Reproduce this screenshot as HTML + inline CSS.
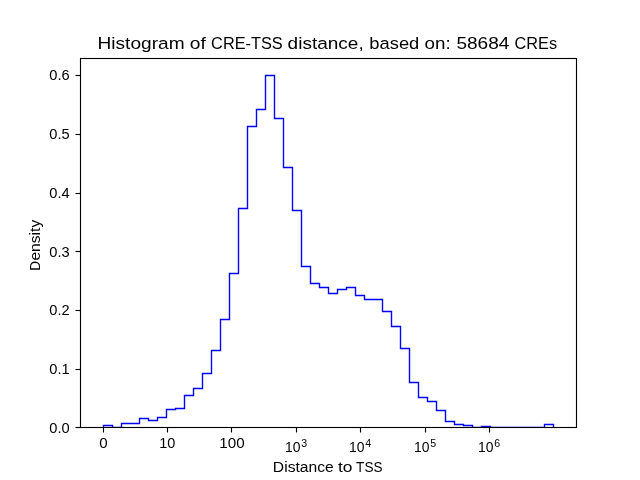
<!DOCTYPE html>
<html><head><meta charset="utf-8"><style>
html,body{margin:0;padding:0;background:#fff;width:640px;height:480px;overflow:hidden}
svg{display:block}
text{font-family:"Liberation Sans", sans-serif;font-size:13.89px;fill:#000}
</style></head><body>
<svg width="640" height="480" viewBox="0 0 640 480">
<rect width="640" height="480" fill="#fff"/>
<defs><clipPath id="c"><rect x="80" y="58" width="496" height="369"/></clipPath><filter id="g"><feColorMatrix type="saturate" values="0"/></filter></defs>
<path clip-path="url(#c)" d="M103.5,427.5 L103.5,425.5 L112.5,425.5 L112.5,427.5 L121.5,427.5 L121.5,423.5 L130.5,423.5 L130.5,423.5 L139.5,423.5 L139.5,418.5 L148.5,418.5 L148.5,420.5 L157.5,420.5 L157.5,417.5 L166.5,417.5 L166.5,409.5 L175.5,409.5 L175.5,408.5 L184.5,408.5 L184.5,395.5 L193.5,395.5 L193.5,388.5 L202.5,388.5 L202.5,373.5 L211.5,373.5 L211.5,350.5 L220.5,350.5 L220.5,319.5 L229.5,319.5 L229.5,273.5 L238.5,273.5 L238.5,208.5 L247.5,208.5 L247.5,126.5 L256.5,126.5 L256.5,109.5 L265.5,109.5 L265.5,75.5 L274.5,75.5 L274.5,118.5 L283.5,118.5 L283.5,167.5 L292.5,167.5 L292.5,210.5 L301.5,210.5 L301.5,266.5 L310.5,266.5 L310.5,283.5 L319.5,283.5 L319.5,287.5 L328.5,287.5 L328.5,293.5 L337.5,293.5 L337.5,289.5 L346.5,289.5 L346.5,287.5 L355.5,287.5 L355.5,295.5 L364.5,295.5 L364.5,299.5 L373.5,299.5 L373.5,299.5 L382.5,299.5 L382.5,311.5 L391.5,311.5 L391.5,326.5 L400.5,326.5 L400.5,348.5 L409.5,348.5 L409.5,382.5 L418.5,382.5 L418.5,397.5 L427.5,397.5 L427.5,401.5 L436.5,401.5 L436.5,410.5 L445.5,410.5 L445.5,421.5 L454.5,421.5 L454.5,424.5 L463.5,424.5 L463.5,425.5 L472.5,425.5 L472.5,427.5 L481.5,427.5 L481.5,426.5 L490.5,426.5 L490.5,427.5 L499.5,427.5 L499.5,427.5 L508.5,427.5 L508.5,427.5 L517.5,427.5 L517.5,427.5 L526.5,427.5 L526.5,427.5 L535.5,427.5 L535.5,427.5 L544.5,427.5 L544.5,424.5 L553.5,424.5 L553.5,427.5" fill="none" stroke="#0000ff" stroke-width="1.39" stroke-linejoin="miter" stroke-linecap="butt"/>
<rect x="80.5" y="58.5" width="496" height="369" fill="none" stroke="#000" stroke-width="1.11"/>
<line x1="75.5" y1="427.5" x2="80.5" y2="427.5" stroke="#000" stroke-width="1.11"/>
<line x1="75.5" y1="369.5" x2="80.5" y2="369.5" stroke="#000" stroke-width="1.11"/>
<line x1="75.5" y1="310.5" x2="80.5" y2="310.5" stroke="#000" stroke-width="1.11"/>
<line x1="75.5" y1="251.5" x2="80.5" y2="251.5" stroke="#000" stroke-width="1.11"/>
<line x1="75.5" y1="193.5" x2="80.5" y2="193.5" stroke="#000" stroke-width="1.11"/>
<line x1="75.5" y1="134.5" x2="80.5" y2="134.5" stroke="#000" stroke-width="1.11"/>
<line x1="75.5" y1="75.5" x2="80.5" y2="75.5" stroke="#000" stroke-width="1.11"/>
<line x1="103.5" y1="427.5" x2="103.5" y2="432.5" stroke="#000" stroke-width="1.11"/>
<line x1="167.5" y1="427.5" x2="167.5" y2="432.5" stroke="#000" stroke-width="1.11"/>
<line x1="231.5" y1="427.5" x2="231.5" y2="432.5" stroke="#000" stroke-width="1.11"/>
<line x1="296.5" y1="427.5" x2="296.5" y2="432.5" stroke="#000" stroke-width="1.11"/>
<line x1="360.5" y1="427.5" x2="360.5" y2="432.5" stroke="#000" stroke-width="1.11"/>
<line x1="425.5" y1="427.5" x2="425.5" y2="432.5" stroke="#000" stroke-width="1.11"/>
<line x1="489.5" y1="427.5" x2="489.5" y2="432.5" stroke="#000" stroke-width="1.11"/>
<g filter="url(#g)">
<text x="49.27" y="432.90" textLength="20.37" lengthAdjust="spacingAndGlyphs">0.0</text>
<text x="49.27" y="373.90" textLength="20.37" lengthAdjust="spacingAndGlyphs">0.1</text>
<text x="49.27" y="314.90" textLength="20.37" lengthAdjust="spacingAndGlyphs">0.2</text>
<text x="49.27" y="256.90" textLength="20.37" lengthAdjust="spacingAndGlyphs">0.3</text>
<text x="49.27" y="197.90" textLength="20.37" lengthAdjust="spacingAndGlyphs">0.4</text>
<text x="49.27" y="138.90" textLength="20.37" lengthAdjust="spacingAndGlyphs">0.5</text>
<text x="49.27" y="79.90" textLength="20.37" lengthAdjust="spacingAndGlyphs">0.6</text>
<text x="99.16" y="448" textLength="8.41" lengthAdjust="spacingAndGlyphs">0</text>
<text x="159.25" y="448" textLength="16.12" lengthAdjust="spacingAndGlyphs">10</text>
<text x="219.30" y="448" textLength="25.33" lengthAdjust="spacingAndGlyphs">100</text>
<text x="285.1" y="452.2">10<tspan style="font-size:10.6px" dx="0.6" dy="-5.6">3</tspan></text>
<text x="349.1" y="452.2">10<tspan style="font-size:10.6px" dx="0.6" dy="-5.6">4</tspan></text>
<text x="414.1" y="452.2">10<tspan style="font-size:10.6px" dx="0.6" dy="-5.6">5</tspan></text>
<text x="478.1" y="452.2">10<tspan style="font-size:10.6px" dx="0.6" dy="-5.6">6</tspan></text>
<text x="97.49" y="49" style="font-size:16.67px" textLength="87.11" lengthAdjust="spacingAndGlyphs">Histogram</text>
<text x="189.89" y="49" style="font-size:16.67px" textLength="16.01" lengthAdjust="spacingAndGlyphs">of</text>
<text x="211.12" y="49" style="font-size:16.67px" textLength="71.53" lengthAdjust="spacingAndGlyphs">CRE-TSS</text>
<text x="287.60" y="49" style="font-size:16.67px" textLength="76.13" lengthAdjust="spacingAndGlyphs">distance,</text>
<text x="369.39" y="49" style="font-size:16.67px" textLength="49.94" lengthAdjust="spacingAndGlyphs">based</text>
<text x="424.51" y="49" style="font-size:16.67px" textLength="26.15" lengthAdjust="spacingAndGlyphs">on:</text>
<text x="456.40" y="49" style="font-size:16.67px" textLength="52.91" lengthAdjust="spacingAndGlyphs">58684</text>
<text x="514.62" y="49" style="font-size:16.67px" textLength="42.50" lengthAdjust="spacingAndGlyphs">CREs</text>
<text x="272.86" y="472" textLength="60.85" lengthAdjust="spacingAndGlyphs">Distance</text>
<text x="338.00" y="472" textLength="14.47" lengthAdjust="spacingAndGlyphs">to</text>
<text x="356.11" y="472" textLength="26.39" lengthAdjust="spacingAndGlyphs">TSS</text>
<g transform="translate(39.9,270) rotate(-90)"><text x="-0.67" y="0" textLength="9.79" lengthAdjust="spacingAndGlyphs">D</text><text x="9.43" y="0" textLength="40.76" lengthAdjust="spacingAndGlyphs">ensity</text></g>
</g>
</svg>
</body></html>
